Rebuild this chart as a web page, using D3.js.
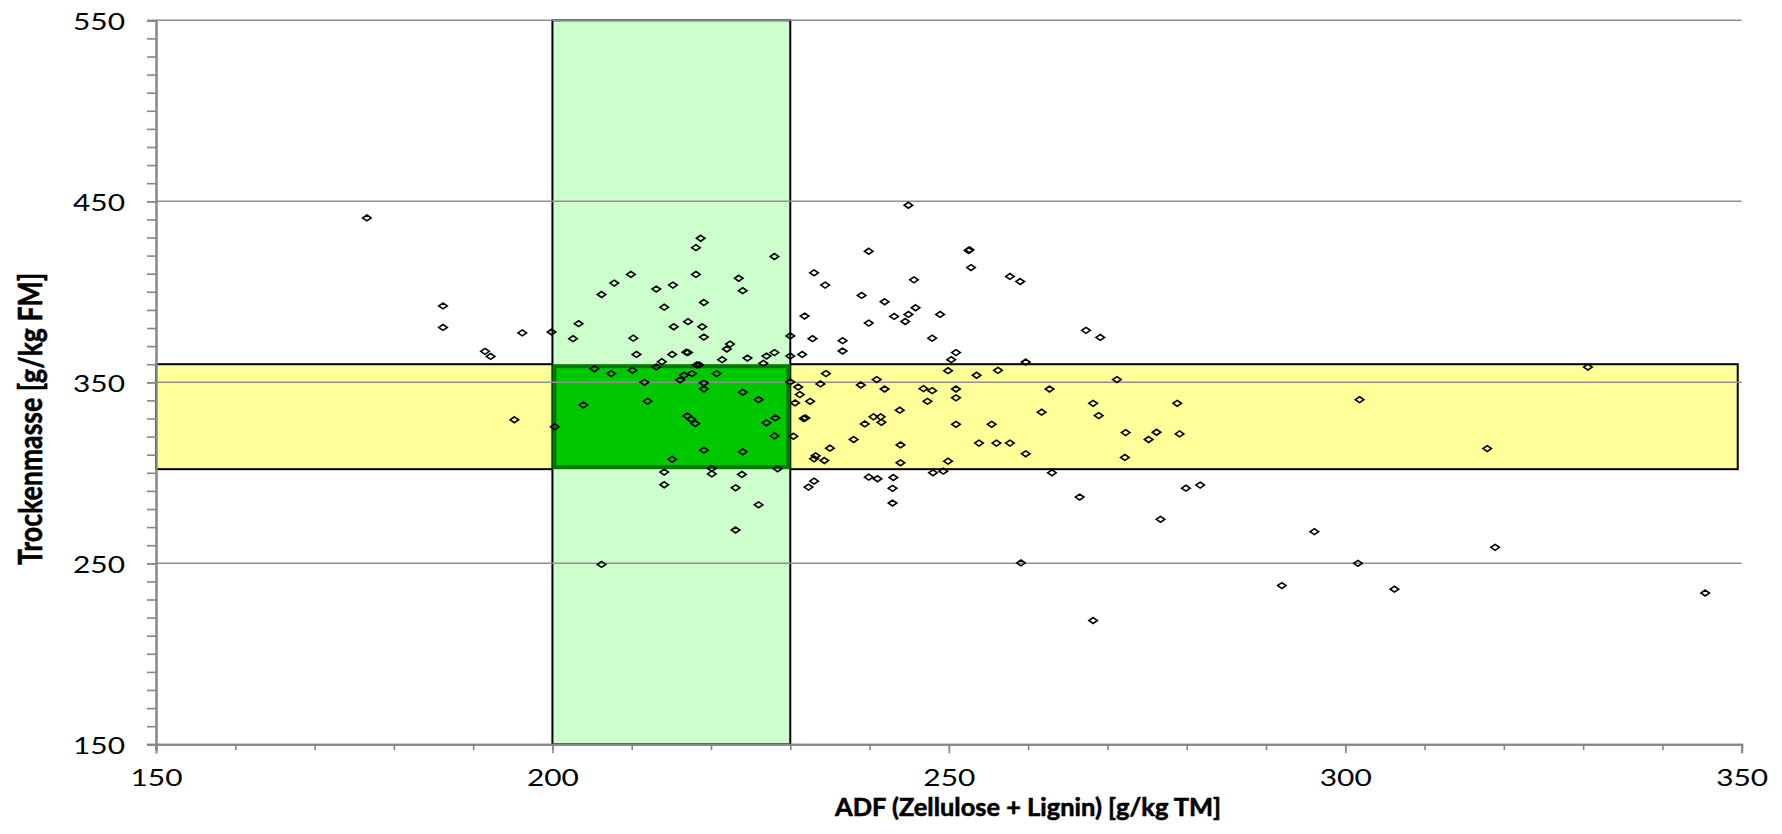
<!DOCTYPE html>
<html>
<head>
<meta charset="utf-8">
<script src="https://cdn.jsdelivr.net/npm/d3@7"></script>
<style>
  html, body { margin: 0; padding: 0; background: #fff; }
  svg { display: block; }
  text { font-family: Lato, "Open Sans", sans-serif; fill: #000; }
</style>
</head>
<body>
<div id="chart"></div>
<script>
'use strict';

// ADF [g/kg TM] of each sample
const adf = [
  176.6, 186.2, 186.2, 191.5, 192.2, 196.2, 195.2,
  218.7, 218.1, 228.0, 209.9, 218.1, 207.8, 223.5, 215.2, 213.1, 224.0,
  206.2, 219.1, 214.1, 203.3, 199.9, 202.6, 217.1, 215.3, 218.9, 210.2,
  219.1, 230.0, 210.6, 215.1, 217.1, 216.9, 222.4, 222.0, 221.4, 224.6,
  228.0, 227.0, 230.0, 213.8, 213.1, 218.2, 218.5, 205.3, 207.4, 210.1,
  226.6, 217.6, 216.6, 216.1, 220.7, 211.6, 219.1, 219.1, 230.0, 224.0,
  226.0, 203.9, 212.0, 217.0, 217.5, 218.0, 228.1, 227.0, 200.3, 228.0,
  219.1, 224.0, 215.1, 220.1, 228.4, 214.1, 220.1, 223.9, 214.1, 223.1,
  244.9, 239.9, 252.5, 252.6, 252.8, 233.0, 245.6, 234.4, 257.7, 259.0,
  239.0, 241.9, 231.8, 243.1, 244.9, 245.8, 244.5, 248.9, 239.9, 232.8,
  236.6, 247.9, 236.6, 231.5, 250.9, 250.3, 259.7, 234.5, 249.9, 253.5,
  256.2, 240.9, 233.8, 238.9, 231.0, 241.9, 246.8, 247.9, 250.9, 262.7,
  231.2, 232.5, 230.6, 247.3, 250.9, 243.8, 261.7, 231.7, 231.9, 240.5,
  241.4, 241.5, 239.4, 250.9, 255.4, 230.4, 238.0, 235.0, 243.9, 253.8,
  256.0, 257.7, 259.7, 233.2, 233.0, 234.3, 243.9, 249.9, 248.0, 249.3,
  263.0, 239.9, 241.0, 243.0, 233.0, 232.3, 242.9,
  226.0, 223.1, 206.2, 242.9, 259.1,
  267.3, 269.1, 271.2, 268.2, 278.8, 301.8, 268.9, 272.3, 276.2, 275.2,
  279.1, 272.2, 317.9, 266.5, 279.9, 281.7, 276.7, 296.1, 318.9, 301.6,
  292.0, 306.2, 268.2,
  330.6, 345.4
];

// Trockenmasse [g/kg FM] of each sample
const tm = [
  440.8, 392.2, 380.3, 367.1, 364.3, 377.3, 329.3,
  429.6, 424.4, 419.5, 409.6, 409.6, 404.8, 407.5, 403.7, 401.5, 400.6,
  398.5, 394.1, 391.5, 382.4, 377.8, 374.1, 383.5, 380.7, 380.7, 374.4,
  375.0, 375.6, 365.4, 365.4, 366.4, 366.6, 371.1, 368.4, 362.5, 363.4,
  366.4, 364.5, 364.5, 361.4, 358.5, 359.6, 359.6, 357.5, 354.8, 356.6,
  360.5, 354.8, 353.9, 351.3, 354.8, 350.0, 349.6, 346.3, 350.2, 344.5,
  340.4, 337.5, 339.5, 331.4, 329.6, 327.2, 330.3, 327.6, 325.4, 320.4,
  312.5, 311.6, 307.5, 302.4, 302.2, 300.4, 299.4, 299.1, 293.4, 291.7,
  447.8, 422.4, 422.8, 423.2, 413.4, 410.5, 406.6, 403.7, 408.5, 405.7,
  398.0, 394.5, 386.6, 386.4, 387.5, 391.2, 383.6, 387.5, 382.7, 374.1,
  373.0, 374.4, 367.3, 365.4, 366.4, 362.5, 361.2, 354.8, 356.4, 353.9,
  356.6, 351.5, 349.1, 348.5, 347.4, 346.3, 346.5, 345.4, 346.3, 346.3,
  343.2, 339.5, 338.6, 339.5, 341.4, 334.6, 333.5, 330.0, 330.3, 330.9,
  330.9, 327.9, 327.0, 326.8, 326.8, 320.2, 318.4, 313.6, 315.4, 316.4,
  316.4, 316.4, 310.5, 309.4, 307.7, 306.8, 305.5, 306.4, 300.0, 300.9,
  300.0, 297.6, 296.7, 297.4, 295.4, 292.1, 291.4,
  282.3, 268.4, 249.4, 283.3, 250.2,
  378.7, 374.8, 351.5, 338.4, 338.4, 340.4, 331.6, 322.2, 322.4, 318.4,
  321.5, 308.5, 313.4, 286.6, 291.5, 293.2, 274.3, 267.5, 258.8, 250.0,
  237.7, 235.7, 218.4,
  358.4, 233.6
];

// target ranges
const adfTarget = [200, 230];
const tmTarget = [302, 360];
const bandAdf = [150, 349.5];

// axis ticks
const xTickLabels = [150, 200, 250, 300, 350];
const xMinorTicks = d3.range(150, 351, 10);
const yTickLabels = [150, 250, 350, 450, 550];
const yMinorTicks = d3.range(150, 551, 10);

const width = 1782;
const height = 834;

const x = d3.scaleLinear().domain([150, 350]).range([156, 1741.7]);
const y = d3.scaleLinear().domain([150, 550]).range([744.3, 20.3]);

const svg = d3.select('#chart')
  .append('svg')
  .attr('width', width)
  .attr('height', height);

// yellow band (TM target)
svg.append('rect')
  .attr('x', x(bandAdf[0]))
  .attr('y', y(tmTarget[1]))
  .attr('width', x(bandAdf[1]) - x(bandAdf[0]))
  .attr('height', y(tmTarget[0]) - y(tmTarget[1]))
  .attr('fill', '#ffff99')
  .attr('stroke', '#000')
  .attr('stroke-width', 2);

// light green column (ADF target)
svg.append('rect')
  .attr('x', x(adfTarget[0]))
  .attr('y', y(550))
  .attr('width', x(adfTarget[1]) - x(adfTarget[0]))
  .attr('height', y(150) - y(550))
  .attr('fill', '#ccffcc')
  .attr('stroke', '#000')
  .attr('stroke-width', 2);

// both targets met
svg.append('rect')
  .attr('x', x(adfTarget[0]) + 2)
  .attr('y', y(tmTarget[1]) + 2)
  .attr('width', x(adfTarget[1]) - x(adfTarget[0]) - 4)
  .attr('height', y(tmTarget[0]) - y(tmTarget[1]) - 4)
  .attr('fill', '#00c800')
  .attr('stroke', '#007a00')
  .attr('stroke-width', 4);

// horizontal gridlines
svg.append('g')
  .selectAll('line')
  .data(yTickLabels.slice(1))
  .enter()
  .append('line')
  .attr('x1', x(150))
  .attr('x2', x(350))
  .attr('y1', d => y(d))
  .attr('y2', d => y(d))
  .attr('stroke', '#8f8f8f')
  .attr('stroke-width', 1.4);

// samples
const diamond = d3.symbol(d3.symbolDiamond2, 22);
svg.append('g')
  .selectAll('path')
  .data(adf.map((v, i) => [v, tm[i]]))
  .enter()
  .append('path')
  .attr('d', diamond)
  .attr('transform', d => 'translate(' + x(d[0]) + ',' + y(d[1]) + ') scale(1.45,1)')
  .attr('fill', 'none')
  .attr('stroke', '#000')
  .attr('stroke-width', 1.6)
  .attr('vector-effect', 'non-scaling-stroke');

// x axis: minor ticks, then major ticks with labels
const xMinor = svg.append('g')
  .attr('transform', 'translate(0,' + y(150) + ')')
  .call(d3.axisBottom(x).tickValues(xMinorTicks).tickSize(6).tickFormat(''));
const xAxis = svg.append('g')
  .attr('transform', 'translate(0,' + y(150) + ')')
  .call(d3.axisBottom(x).tickValues(xTickLabels).tickSize(9).tickFormat(d3.format('d')));

// y axis
const yMinor = svg.append('g')
  .attr('transform', 'translate(' + x(150) + ',0)')
  .call(d3.axisLeft(y).tickValues(yMinorTicks).tickSize(9).tickFormat(''));
const yAxis = svg.append('g')
  .attr('transform', 'translate(' + x(150) + ',0)')
  .call(d3.axisLeft(y).tickValues(yTickLabels).tickSize(9).tickFormat(d3.format('d')));

[xMinor, xAxis, yMinor, yAxis].forEach(function(g) {
  g.select('.domain').attr('stroke', '#878787').attr('stroke-width', 2);
  g.selectAll('.tick line').attr('stroke', '#878787').attr('stroke-width', 1.6);
});

xAxis.selectAll('.tick text')
  .attr('y', 42)
  .attr('dy', 0)
  .style('font-size', '23px')
  .attr('textLength', 52)
  .attr('lengthAdjust', 'spacingAndGlyphs');

yAxis.selectAll('.tick text')
  .attr('x', -31)
  .attr('dy', '0.4em')
  .style('font-size', '23px')
  .attr('textLength', 52)
  .attr('lengthAdjust', 'spacingAndGlyphs');

// axis titles
svg.append('text')
  .attr('x', 835)
  .attr('y', 816)
  .style('font-size', '25px')
  .style('font-weight', 'bold')
  .style('stroke', '#000')
  .style('stroke-width', 0.6)
  .attr('textLength', 386)
  .attr('lengthAdjust', 'spacingAndGlyphs')
  .text('ADF (Zellulose + Lignin) [g/kg TM]');

svg.append('text')
  .attr('transform', 'translate(42,419) rotate(-90)')
  .attr('text-anchor', 'middle')
  .style('font-size', '33px')
  .style('font-weight', 'bold')
  .style('stroke', '#000')
  .style('stroke-width', 0.6)
  .attr('textLength', 292)
  .attr('lengthAdjust', 'spacingAndGlyphs')
  .text('Trockenmasse [g/kg FM]');
</script>
</body>
</html>
